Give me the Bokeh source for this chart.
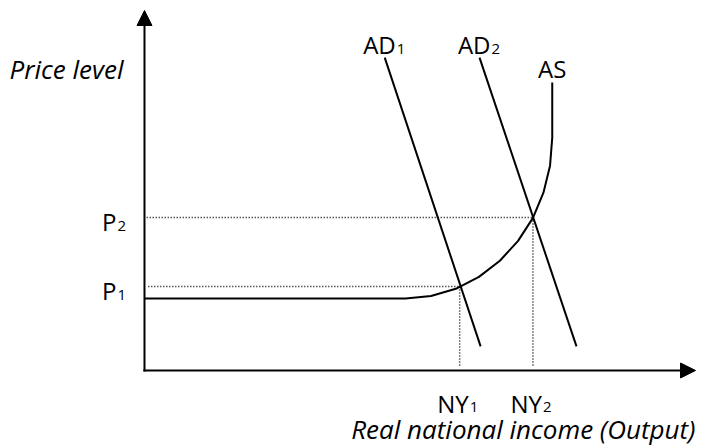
from bokeh.plotting import figure
from bokeh.models import Range1d, Label, Arrow, NormalHead
from bokeh.embed import file_html
from bokeh.resources import INLINE

# ---- data (arbitrary units: real output 0-100, price level 0-100) ----
axis_end_x = 100.0
axis_end_y = 100.0
as_x = [0.0, 47.4, 52.0, 56.5, 60.7, 64.5, 67.8, 70.5, 72.4, 73.6, 74.0, 74.0]
as_y = [20.0, 20.0, 20.7, 22.7, 26.0, 30.5, 36.0, 42.4, 49.4, 56.9, 64.7, 80.0]
ad1_x = [43.6, 61.0]
ad1_y = [86.9, 6.7]
ad2_x = [60.8, 78.4]
ad2_y = [86.9, 6.7]
ny_values = [57.2, 70.5]      # NY1, NY2
p_values = [23.3, 42.5]       # P1, P2
subs = ["1", "2"]
guide_start_x = [0.7, 0.4]
guide_end_y = 1.4

FONT = "Open Sans"

p = figure(width=704, height=447,
           x_range=Range1d(-26.13, 101.63), y_range=Range1d(-21.39, 102.78),
           output_backend="svg", toolbar_location=None, min_border=0,
           x_axis_location=None, y_axis_location=None)
p.grid.visible = False
p.outline_line_color = None
p.background_fill_color = "white"
p.border_fill_color = "white"

# axes with arrow heads
for xs, ys, xe, ye in [(0, -0.3, 0, axis_end_y), (-0.2, 0, axis_end_x, 0)]:
    p.add_layout(Arrow(end=NormalHead(size=15, fill_color="black", line_color="black", line_width=1),
                       x_start=xs, y_start=ys, x_end=xe, y_end=ye,
                       line_color="black", line_width=2))

# dotted guides
for i in range(2):
    p.line([guide_start_x[i], ny_values[i]], [p_values[i], p_values[i]],
           line_color="black", line_width=1.5, line_dash="1 2")
    p.line([ny_values[i], ny_values[i]], [p_values[i], guide_end_y],
           line_color="black", line_width=1.5, line_dash="1 2")

# curves
p.line(as_x, as_y, line_color="black", line_width=2, line_join="round")
p.line(ad1_x, ad1_y, line_color="black", line_width=2)
p.line(ad2_x, ad2_y, line_color="black", line_width=2)

MAIN = "24px"
SUB = "15px"
ITAL = "26px"

def lab(x, y, text, align="left", xo=0, yo=0, size=MAIN, style="normal"):
    p.add_layout(Label(x=x, y=y, text=text, x_offset=xo, y_offset=yo,
                       text_align=align, text_baseline="alphabetic",
                       text_font=FONT, text_font_size=size, text_font_style=style,
                       text_color="black"))

# P labels
for i in range(2):
    lab(0, p_values[i], "P", align="right", xo=-28, yo=-4)
    lab(0, p_values[i], subs[i], align="left", xo=-27, yo=-8, size=SUB)

# NY labels
for i in range(2):
    lab(ny_values[i], 0, "NY", align="right", xo=9, yo=-33)
    lab(ny_values[i], 0, subs[i], align="left", xo=10, yo=-37, size=SUB)

# AD labels
for xs_, ys_, s in [(ad1_x, ad1_y, "1"), (ad2_x, ad2_y, "2")]:
    lab(xs_[0], ys_[0], "AD", align="right", xo=11, yo=13)
    lab(xs_[0], ys_[0], s, align="left", xo=12, yo=9, size=SUB)

# AS label
lab(as_x[-1], as_y[-1], "AS", align="center", xo=0, yo=14)

# axis titles
lab(0, axis_end_y, "Price level", align="right", xo=-21, yo=-58, size=ITAL, style="italic")
lab(axis_end_x, 0, "Real national income (Output)", align="right", xo=0, yo=-59, size=ITAL, style="italic")

open("out.html", "w").write(file_html(p, INLINE))
